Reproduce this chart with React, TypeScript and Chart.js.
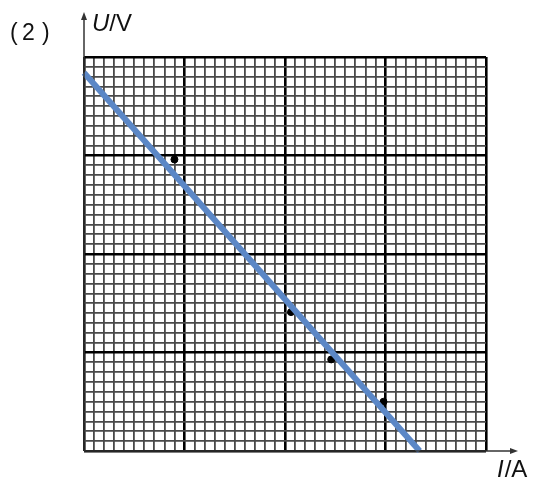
import React, { useEffect, useRef } from "react";
import { Chart, registerables } from "chart.js";

Chart.register(...registerables);

// Data (grid units: 40 small divisions on each axis)
const fitLine = [
  { x: 0, y: 38.4 },
  { x: 33.4, y: 0 },
];
const pointsX = [9.0, 20.6, 24.6, 29.8];
const pointsY = [29.6, 14.1, 9.3, 5.0];
const axisMin = 0;
const axisMax = 40;
const majorEvery = 10;
const yLabel = "U/V";
const xLabel = "I/A";

const overlay = {
  id: "overlay",
  afterDraw(chart: any) {
    const { ctx, chartArea } = chart;
    const { left, bottom } = chartArea;
    ctx.save();
    ctx.strokeStyle = "#333";
    ctx.fillStyle = "#333";
    ctx.lineWidth = 1.5;
    // y axis
    ctx.beginPath();
    ctx.moveTo(left, bottom);
    ctx.lineTo(left, 18);
    ctx.stroke();
    ctx.beginPath();
    ctx.moveTo(left, 12);
    ctx.lineTo(left - 3, 20);
    ctx.lineTo(left + 3, 20);
    ctx.closePath();
    ctx.fill();
    // x axis
    ctx.beginPath();
    ctx.moveTo(left, bottom);
    ctx.lineTo(512, bottom);
    ctx.stroke();
    ctx.beginPath();
    ctx.moveTo(518, bottom);
    ctx.lineTo(510, bottom - 3);
    ctx.lineTo(510, bottom + 3);
    ctx.closePath();
    ctx.fill();

    ctx.fillStyle = "#111";
    ctx.textBaseline = "alphabetic";
    ctx.textAlign = "left";
    // y label
    ctx.font = "italic 24px 'Liberation Sans', Arial, sans-serif";
    ctx.fillText(yLabel.charAt(0), 92, 31);
    const uw = ctx.measureText("U").width;
    ctx.font = "24px 'Liberation Sans', Arial, sans-serif";
    ctx.fillText(yLabel.slice(1), 92 + uw, 31);
    // x label
    ctx.font = "italic 24px 'Liberation Sans', Arial, sans-serif";
    ctx.fillText(xLabel.charAt(0), 497, 477);
    const iw = ctx.measureText("I").width;
    ctx.font = "24px 'Liberation Sans', Arial, sans-serif";
    ctx.fillText(xLabel.slice(1), 497 + iw + 1, 477);
    // part label
    ctx.font = "23px 'Liberation Sans', Arial, sans-serif";
    ctx.fillText("(", 10, 40);
    ctx.fillText("2", 22, 40);
    ctx.fillText(")", 42, 40);
    ctx.restore();
  },
};

export default function App() {
  const ref = useRef<HTMLCanvasElement>(null);
  useEffect(() => {
    if (!ref.current) return;
    const gridColor = (c: any) =>
      c.tick && c.tick.value % majorEvery === 0 ? "#000" : "#4a4a4a";
    const gridWidth = (c: any) =>
      c.tick && c.tick.value % majorEvery === 0 ? 2.6 : 1.8;
    const chart = new Chart(ref.current, {
      type: "scatter",
      data: {
        datasets: [
          {
            type: "line",
            data: fitLine,
            borderColor: "#5b87c6",
            borderWidth: 6,
            pointRadius: 0,
            order: 0,
            clip: false as any,
          },
          {
            type: "scatter",
            data: pointsX.map((x, i) => ({ x, y: pointsY[i] })),
            backgroundColor: "#000",
            borderColor: "#000",
            pointRadius: 3.5,
            order: 1,
          },
        ],
      },
      options: {
        animation: false,
        responsive: false,
        layout: { padding: { left: 84, right: 51, top: 57, bottom: 29 } },
        plugins: { legend: { display: false }, tooltip: { enabled: false } },
        scales: {
          x: {
            type: "linear",
            min: axisMin,
            max: axisMax,
            ticks: { display: false, stepSize: 1 },
            grid: { color: gridColor, lineWidth: gridWidth, drawTicks: false },
            border: { display: false },
          },
          y: {
            type: "linear",
            min: axisMin,
            max: axisMax,
            ticks: { display: false, stepSize: 1 },
            grid: { color: gridColor, lineWidth: gridWidth, drawTicks: false },
            border: { display: false },
          },
        },
      },
      plugins: [overlay],
    });
    return () => chart.destroy();
  }, []);
  return (
    <div style={{ position: "fixed", left: 0, top: 0, width: 537, height: 480, background: "#fff" }}>
      <canvas ref={ref} width={537} height={480} style={{ width: 537, height: 480 }} />
    </div>
  );
}
